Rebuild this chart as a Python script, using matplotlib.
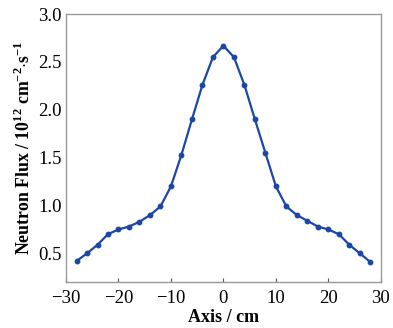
import numpy as np
import matplotlib
matplotlib.use("Agg")
import matplotlib.pyplot as plt

# posizioni lungo l'asse (cm) e flusso neutronico (10^12 cm^-2 s^-1)
axis_cm = [-28, -26, -24, -22, -20, -18, -16, -14, -12, -10, -8, -6, -4, -2,
           0, 2, 4, 6, 8, 10, 12, 14, 16, 18, 20, 22, 24, 26, 28]
flux = [0.42, 0.50, 0.59, 0.70, 0.75, 0.78, 0.83, 0.90, 0.99, 1.20, 1.53, 1.90, 2.26, 2.55,
        2.67, 2.55, 2.26, 1.90, 1.55, 1.20, 0.99, 0.90, 0.84, 0.78, 0.75, 0.70, 0.59, 0.50, 0.41]

x_ticks = [-30, -20, -10, 0, 10, 20, 30]
y_ticks = [0.5, 1.0, 1.5, 2.0, 2.5, 3.0]

plt.rcParams['font.family'] = ['Liberation Serif', 'DejaVu Serif']
plt.rcParams['mathtext.fontset'] = 'custom'
plt.rcParams['mathtext.rm'] = 'Liberation Serif'
plt.rcParams['mathtext.bf'] = 'Liberation Serif:bold'

fig = plt.figure(figsize=(3.93, 3.28), dpi=100)
ax = fig.add_axes([0.168, 0.140, 0.801, 0.817])

ax.plot(axis_cm, flux, color="#1d47a6", linewidth=1.6, marker="o", markersize=3.2)

ax.set_xlim(-30, 30)
ax.set_ylim(0.2, 3.0)
ax.set_xticks(x_ticks)
ax.set_yticks(y_ticks)
ax.set_xticklabels(["\u221230", "\u221220", "\u221210", "0", "10", "20", "30"])
ax.tick_params(axis="both", direction="in", length=3, width=0.8, color="#555555",
               labelsize=13.5)
ax.tick_params(axis="x", pad=6)
ax.tick_params(axis="y", length=0, pad=3)

for s in ax.spines.values():
    s.set_color("#999999")
    s.set_linewidth(1.0)

ax.set_xlabel("Axis / cm", fontsize=13, fontweight="bold", labelpad=1)
ax.set_ylabel(r"Neutron Flux / 10$^{\mathbf{12}}$ cm$^{\mathbf{-2}}$$\cdot$s$^{\mathbf{-1}}$",
              fontsize=12.8, fontweight="bold", labelpad=3)

fig.savefig("out.png", dpi=100)
